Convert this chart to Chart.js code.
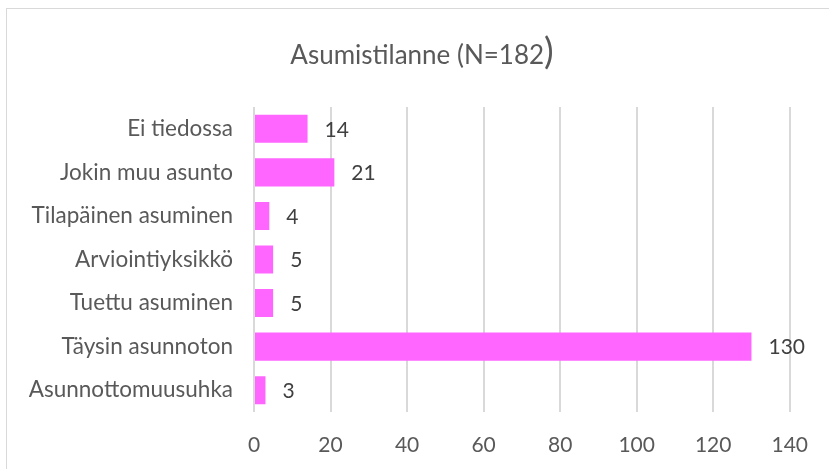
<!DOCTYPE html>
<html><head><meta charset="utf-8">
<script src="https://cdn.jsdelivr.net/npm/chart.js@4"></script>
<style>
html,body{margin:0;padding:0;background:#fff;overflow:hidden}
#frame{position:absolute;left:6px;top:8px;width:900px;height:500px;border:1px solid #d9d9d9;box-sizing:border-box}
#wrap{position:absolute;left:0;top:0;width:829px;height:469px}
</style></head>
<body>
<div id="frame"></div>
<div id="wrap"><canvas id="c" width="829" height="469"></canvas></div>
<script>
const categories = ["Ei tiedossa","Jokin muu asunto","Tilapäinen asuminen","Arviointiyksikkö","Tuettu asuminen","Täysin asunnoton","Asunnottomuusuhka"];
const values = [14,21,4,5,5,130,3];
const xTicks = [0,20,40,60,80,100,120,140];
const titleMain = "Asumistilanne (N=182";
const titleEnd = ")";

const FONT = 'Lato, "Open Sans", sans-serif';

const titlePlugin = {
  id:'titlePlugin',
  afterDraw(chart){
    const ctx = chart.ctx;
    ctx.save();
    ctx.fillStyle = '#595959';
    ctx.textBaseline = 'alphabetic';
    ctx.textAlign = 'left';
    ctx.font = '26px ' + FONT;
    const w1 = ctx.measureText(titleMain).width;
    ctx.font = '36px ' + FONT;
    const w2 = ctx.measureText(titleEnd).width;
    const x0 = 422 - (w1 + w2) / 2;
    ctx.font = '26px ' + FONT;
    ctx.fillText(titleMain, x0, 64);
    ctx.font = '36px ' + FONT;
    ctx.fillText(titleEnd, x0 + w1, 64);
    ctx.restore();
  }
};

const valueLabels = {
  id:'valueLabels',
  afterDatasetsDraw(chart){
    const ctx = chart.ctx;
    const meta = chart.getDatasetMeta(0);
    ctx.save();
    ctx.font = '21px ' + FONT;
    ctx.fillStyle = '#404040';
    ctx.textBaseline = 'middle';
    ctx.textAlign = 'left';
    meta.data.forEach((el,i)=>{
      ctx.fillText(String(values[i]), el.x + 17, el.y + 1);
    });
    ctx.restore();
  }
};

new Chart(document.getElementById('c'),{
  type:'bar',
  data:{labels:categories,datasets:[{data:values,backgroundColor:'#ff66ff',barPercentage:0.644,categoryPercentage:1}]},
  options:{
    indexAxis:'y',
    responsive:false,
    animation:false,
    layout:{padding:{top:107,left:0,right:38,bottom:0}},
    plugins:{
      legend:{display:false},
      tooltip:{enabled:false},
      title:{display:false}
    },
    scales:{
      x:{
        min:0,max:140,
        afterBuildTicks(s){ s.ticks = xTicks.map(v=>({value:v})); },
        grid:{color:'#d9d9d9',lineWidth:2,drawTicks:false},
        border:{display:false},
        ticks:{color:'#595959',font:{family:FONT,size:21},padding:21},
        afterFit(s){ s.height = 57; }
      },
      y:{
        grid:{display:false,drawTicks:false},
        border:{display:false},
        ticks:{color:'#595959',font:{family:FONT,size:22.5},padding:21},
        afterFit(s){ s.width = 254; }
      }
    }
  },
  plugins:[valueLabels,titlePlugin]
});
</script>
</body></html>
